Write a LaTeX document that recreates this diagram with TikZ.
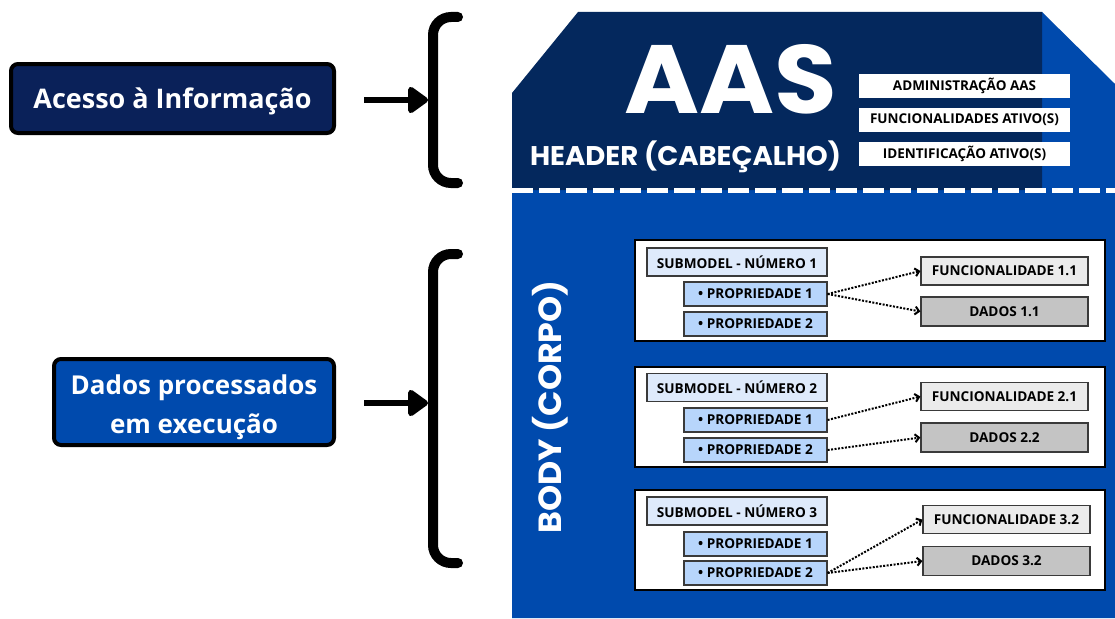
\documentclass[tikz,border=0pt]{standalone}
\usepackage{fontspec}
\setmainfont{Open Sans}
\newfontfamily\pop{Poppins}
\usetikzlibrary{arrows.meta}
\definecolor{navy}{HTML}{04285D}
\definecolor{midblue}{HTML}{004AAD}
\definecolor{accnavy}{HTML}{0A2159}
\definecolor{subfill}{HTML}{DEEAFB}
\definecolor{propfill}{HTML}{B7D5FB}
\definecolor{funcfill}{HTML}{EBEBEB}
\definecolor{datafill}{HTML}{C4C4C4}
\definecolor{edgegray}{HTML}{3A3A3A}
\tikzset{
  hbox/.style={fill=white, inner sep=0pt, minimum width=211pt, minimum height=24pt, font=\bfseries\fontsize{13.5}{15}\selectfont},
  leftbox/.style={draw=black, line width=4pt, rounded corners=7pt, inner sep=0pt, text=white, align=center},
  bigarrow/.style={line width=6pt, -{Triangle[length=22pt,width=30pt,round]}},
  bracket/.style={line width=10pt, line cap=round, rounded corners=18pt},
  frame/.style={draw=black, line width=2pt, fill=white, inner sep=0pt, minimum width=470pt},
  small/.style={draw=edgegray, line width=1.2pt, inner sep=0pt, font=\bfseries\fontsize{13.6}{15}\selectfont},
  subbox/.style={small, fill=subfill, minimum width=180pt, minimum height=28pt},
  propbox/.style={small, fill=propfill, minimum width=143pt, minimum height=24pt},
  funcbox/.style={small, fill=funcfill, minimum width=167pt, minimum height=28pt},
  databox/.style={small, fill=datafill, minimum width=167pt, minimum height=29pt},
  dotarrow/.style={line width=2pt, dash pattern=on 2pt off 1.5pt, -{Straight Barb[length=4pt,width=8pt]}}
}
\begin{document}
\begin{tikzpicture}[x=1pt,y=-1pt]
\useasboundingbox (0,0) rectangle (1115,618);
\fill[white] (0,0) rectangle (1115,618);
% body and header
\fill[midblue] (512,190) -- (1042,190) -- (1042,12) -- (1115,84) -- (1115,618) -- (512,618) -- cycle;
\fill[navy] (512,93) -- (578,12) -- (1042,12) -- (1042,190) -- (512,190) -- cycle;
\draw[white, line width=5pt, dash pattern=on 21pt off 6pt] (512,190) -- (1115,190);
% header content
\node[anchor=base, text=white, inner sep=0pt, font=\pop\bfseries\fontsize{97}{97}\selectfont] (aas) at (731,113) {\scalebox{1.05}[1]{AAS}};
\node[anchor=base, text=white, inner sep=0pt, font=\pop\bfseries\fontsize{27}{30}\selectfont] (header) at (685.5,165) {\scalebox{1.02}[1]{HEADER (CABEÇALHO)}};
\node[hbox] (adm) at (964.5,86) {ADMINISTRAÇÃO AAS};
\node[hbox] (fun) at (964.5,119.5) {FUNCIONALIDADES ATIVO(S)};
\node[hbox] (ide) at (964.5,154) {IDENTIFICAÇÃO ATIVO(S)};
% body label
\node[rotate=90, text=white, inner sep=0pt, font=\pop\bfseries\fontsize{32}{36}\selectfont] (body) at (550,407) {\scalebox{1.04}[1]{BODY (CORPO)}};
% left side
\node[leftbox, fill=accnavy, minimum width=323pt, minimum height=69pt, font=\bfseries\fontsize{27}{39}\selectfont] (acc) at (172.5,98.5) {\raisebox{-3pt}[\height][\depth]{Acesso à Informação}};
\node[leftbox, fill=midblue, minimum width=280pt, minimum height=86pt, font=\bfseries\fontsize{26}{39}\selectfont] (dados) at (194,402) {\raisebox{-4pt}[\height][\depth]{\begin{tabular}{@{}c@{}}Dados processados\\em execução\end{tabular}}};
\coordinate (br1) at (428,100);
\coordinate (br2) at (428,403);
\draw[bracket] (458,17) -- (433,17) -- (433,183) -- (458,183);
\draw[bracket] (458,254) -- (433,254) -- (433,563) -- (458,563);
\draw[bigarrow] ([xshift=28pt]acc.east |- br1) -- (br1);
\draw[bigarrow] ([xshift=28pt]dados.east |- br2) -- (br2);
% frames
\node[frame, minimum height=101pt] (fr1) at (870,290.5) {};
\node[frame, minimum height=100pt] (fr2) at (870,417) {};
\node[frame, minimum height=100pt] (fr3) at (870,540) {};
% frame 1
\node[subbox] (s1) at (737,262) {SUBMODEL - NÚMERO 1};
\node[propbox] (p11) at (755.5,294) {• PROPRIEDADE 1};
\node[propbox] (p12) at (755.5,324) {• PROPRIEDADE 2};
\node[funcbox] (f1) at (1004.5,271) {FUNCIONALIDADE 1.1};
\node[databox] (d1) at (1004.5,311.5) {DADOS 1.1};
% frame 2
\node[subbox] (s2) at (737,387.5) {SUBMODEL - NÚMERO 2};
\node[propbox] (p21) at (755.5,420) {• PROPRIEDADE 1};
\node[propbox] (p22) at (755.5,450) {• PROPRIEDADE 2};
\node[funcbox] (f2) at (1004.5,396.5) {FUNCIONALIDADE 2.1};
\node[databox] (d2) at (1004.5,437.5) {DADOS 2.2};
% frame 3
\node[subbox] (s3) at (737,511) {SUBMODEL - NÚMERO 3};
\node[propbox] (p31) at (755.5,544) {• PROPRIEDADE 1};
\node[propbox] (p32) at (755.5,573) {• PROPRIEDADE 2};
\node[funcbox] (f3) at (1006.5,519.5) {FUNCIONALIDADE 3.2};
\node[databox] (d3) at (1006.5,561) {DADOS 3.2};
% dotted arrows
\draw[dotarrow] (p11.east) -- (f1.west);
\draw[dotarrow] (p11.east) -- (d1.west);
\draw[dotarrow] (p21.east) -- (f2.west);
\draw[dotarrow] (p22.east) -- (d2.west);
\draw[dotarrow] (p32.east) -- (f3.west);
\draw[dotarrow] (p32.east) -- (d3.west);
\end{tikzpicture}
\end{document}
